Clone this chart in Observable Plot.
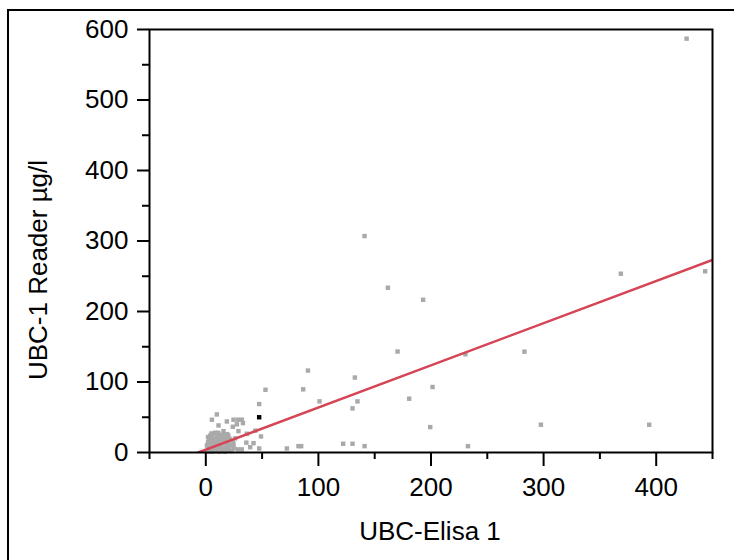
<!DOCTYPE html>
<html><head><meta charset="utf-8">
<script src="https://cdn.jsdelivr.net/npm/d3@7"></script>
<script src="https://cdn.jsdelivr.net/npm/@observablehq/plot@0.6"></script>
<style>
html,body{margin:0;padding:0;background:#fff;overflow:hidden;width:734px;height:560px}
#wrap{position:relative;width:734px;height:560px;overflow:hidden}
#outer{position:absolute;left:7px;top:9px;width:800px;height:700px;border-left:2px solid #000;border-top:2px solid #000;pointer-events:none;z-index:2}
</style></head><body><div id="wrap"><div id="outer"></div></div>
<script>
// UBC-Elisa 1 values (x) and UBC-1 Reader values (y)
const elisa = [
  427, 443.5, 368.6, 283, 297.6, 393.8, 141, 161.7, 193, 170.3, 230.6, 90.7, 132.4, 86.5,
  201.4, 101, 134.7, 130.3, 180.6, 199.3, 72, 82.3, 84.7, 122, 130.3, 141, 232.8, 53,
  47.4, 49, 42.4, 47.4, 39.4, 32, 28.5, 36.5, 9.8, 5.4, 24.6, 28.5, 32, 18.7, 24, 27.6,
  33, 11.3, 15.7, 29, 24.6, 21, 44, 36,
  1, 2, 3, 4, 5, 6, 7, 8, 9, 10, 11, 12, 13, 14, 15, 16, 17, 18, 19, 20, 21,
  2, 3, 4, 5, 6, 7, 8, 9, 10, 11, 12, 13, 14, 15, 16, 17, 18, 19, 20, 21, 22, 23, 24, 25, 26,
  1, 2, 3, 5, 6, 7, 8, 9, 10, 12, 14, 16, 18, 20, 4, 6, 8, 11, 13, 15
];
const reader = [
  587, 257, 253.6, 143, 39.4, 39.4, 307, 233.7, 216.6, 143.2, 139.4, 116.2, 106.3, 89.6,
  92.9, 72.5, 72.5, 62.6, 76.3, 36, 5.7, 9, 9, 12.4, 12.4, 9, 9, 89,
  68.7, 22.8, 13.3, 5.7, 7.5, 4.4, 4.4, 26.6, 54, 46.5, 46.5, 46.5, 46.5, 44, 36.5, 40,
  41.7, 38.4, 30.3, 30.3, 12.4, 19.5, 31, 14,
  2, 5, 8, 3, 12, 7, 18, 4, 10, 22, 15, 6, 25, 9, 3, 14, 20, 8, 26, 12, 4,
  15, 20, 24, 27, 1, 10, 16, 2, 6, 28, 19, 11, 17, 23, 5, 1, 15, 3, 7, 18, 10, 2, 14, 6, 20,
  10, 22, 1, 6, 22, 4, 28, 19, 13, 1, 3, 26, 22, 24, 17, 14, 11, 9, 2, 18
];
const highlightElisa = [47.4];
const highlightReader = [50];
// linear fit
const fitIntercept = 4.0;
const fitSlope = 0.598;
// axes
const xDomain = [-50, 450];
const yDomain = [0, 600];
const xTicks = [0, 100, 200, 300, 400];
const xMinor = [-50, 50, 150, 250, 350, 450];
const yTicks = [0, 100, 200, 300, 400, 500, 600];
const yMinor = [50, 150, 250, 350, 450, 550];
const xLabel = "UBC-Elisa 1";
const yLabel = "UBC-1 Reader µg/l";

const points = elisa.map((x, i) => ({x, y: reader[i]}));
const hl = highlightElisa.map((x, i) => ({x, y: highlightReader[i]}));
const x0 = -fitIntercept / fitSlope;
const fit = [x0, xDomain[1]].map(x => ({x, y: fitIntercept + fitSlope * x}));

const font = "'Liberation Sans', Arial, sans-serif";
const plot = Plot.plot({
  width: 734, height: 560,
  marginLeft: 149, marginRight: 22, marginTop: 29, marginBottom: 108,
  style: {fontFamily: font, fontSize: "26px", background: "transparent", color: "#000"},
  x: {domain: xDomain},
  y: {domain: yDomain},
  marks: [
    Plot.dot(points, {x: "x", y: "y", symbol: "square", r: 2.5, fill: "#a9a9a9", stroke: "none"}),
    Plot.dot(hl, {x: "x", y: "y", symbol: "square", r: 2.5, fill: "#000", stroke: "none"}),
    Plot.line(fit, {x: "x", y: "y", stroke: "#d64555", strokeWidth: 2.5, clip: true}),
    Plot.frame({stroke: "#000", strokeWidth: 2}),
    Plot.axisX({ticks: xTicks, tickSize: 14, tickPadding: 11, strokeWidth: 2, label: null, fontSize: 26, fill: "#000"}),
    Plot.axisX({ticks: xMinor, tickSize: 7, strokeWidth: 2, label: null, tickFormat: () => ""}),
    Plot.axisY({ticks: yTicks, tickSize: 12, tickPadding: 9, strokeWidth: 2, label: null, fontSize: 26, fill: "#000"}),
    Plot.axisY({ticks: yMinor, tickSize: 7, strokeWidth: 2, label: null, tickFormat: () => ""})
  ]
});
document.getElementById("wrap").appendChild(plot);
const svg = d3.select(plot);
svg.append("text").text(xLabel)
  .attr("x", 430).attr("y", 540)
  .attr("text-anchor", "middle").attr("font-size", 26).attr("font-family", font).attr("fill", "#000");
svg.append("text").text(yLabel)
  .attr("transform", "translate(47,270) rotate(-90)")
  .attr("text-anchor", "middle").attr("font-size", 26).attr("font-family", font).attr("fill", "#000");
</script></body></html>
